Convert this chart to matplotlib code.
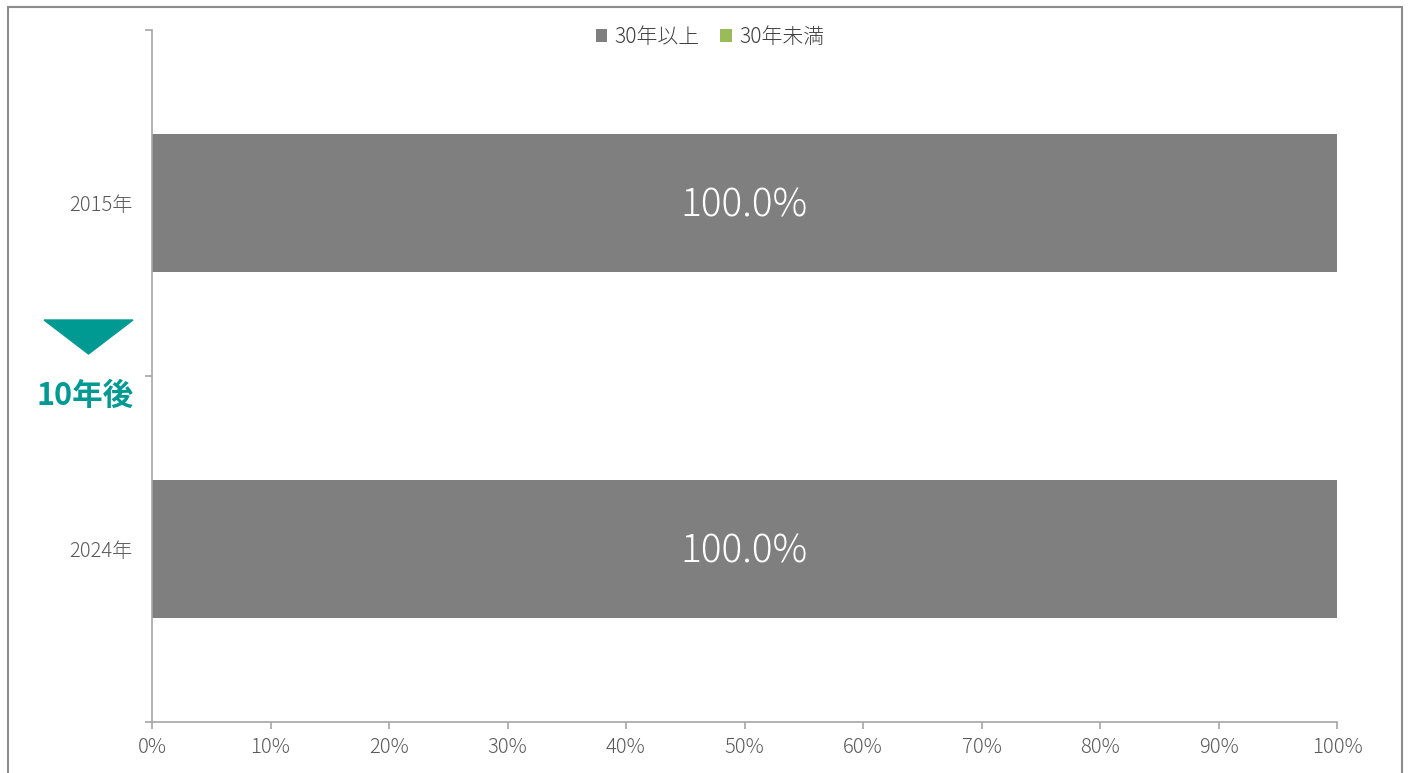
import matplotlib.pyplot as plt
import matplotlib.patches as patches
import numpy as np

plt.rcParams['font.family'] = ['Noto Sans CJK JP', 'DejaVu Sans']

YEARS = ["2015年", "2024年"]
SERIES_NAMES = ["30年以上", "30年未満"]
OVER_30 = [100.0, 100.0]
UNDER_30 = [0.0, 0.0]
X_TICKS = [0, 10, 20, 30, 40, 50, 60, 70, 80, 90, 100]

COLOR_OVER = '#7f7f7f'
COLOR_UNDER = '#9bbb59'
TEAL = '#009a93'
AXIS_GRAY = '#a6a6a6'
TEXT_GRAY = '#595959'

W, H = 1408, 773
fig = plt.figure(figsize=(W / 100, H / 100), dpi=100)
ax = fig.add_axes([152 / W, 1 - 722 / H, (1337 - 152) / W, (722 - 30) / H])

y = np.arange(len(YEARS))
ax.barh(y, OVER_30, height=0.4, color=COLOR_OVER, label=SERIES_NAMES[0])
ax.barh(y, UNDER_30, left=OVER_30, height=0.4, color=COLOR_UNDER, label=SERIES_NAMES[1])

for yi, v in zip(y, OVER_30):
    ax.annotate(f"{v:.1f}%", (v / 2, yi), xytext=(0, -2), textcoords='offset points',
                ha='center', va='center', color='white', fontsize=28, fontweight='light')

ax.set_xlim(0, 100)
ax.set_ylim(len(YEARS) - 0.5, -0.5)
ax.set_xticks(X_TICKS)
ax.set_xticklabels([f"{t}%" for t in X_TICKS], fontweight='light')
ax.set_yticks(np.arange(len(YEARS) + 1) - 0.5)
ax.set_yticklabels([])
ax.set_yticks(y, minor=True)
ax.set_yticklabels(YEARS, minor=True, fontweight='light')
ax.tick_params(axis='y', which='minor', length=0, pad=14, labelsize=14.5, labelcolor=TEXT_GRAY)
ax.tick_params(axis='y', which='major', length=5, color=AXIS_GRAY, width=1.2)
ax.tick_params(axis='x', length=5, color=AXIS_GRAY, width=1.2, labelsize=14.5, labelcolor=TEXT_GRAY, pad=6)

for side in ['top', 'right']:
    ax.spines[side].set_visible(False)
for side in ['left', 'bottom']:
    ax.spines[side].set_color(AXIS_GRAY)
    ax.spines[side].set_linewidth(1.2)

leg = fig.legend(loc='center', bbox_to_anchor=(710 / W, 1 - 37 / H), ncol=2, frameon=False,
                 fontsize=15, handlelength=0.55, handleheight=0.55, handletextpad=0.35,
                 columnspacing=1.0)
for t in leg.get_texts():
    t.set_color('#404040')
    t.set_fontweight('light')

# arrow and "10年後" annotation on the left
tri = patches.Polygon([[44 / W, 1 - 320 / H], [133 / W, 1 - 320 / H], [88.5 / W, 1 - 354 / H]],
                      closed=True, transform=fig.transFigure, color=TEAL)
fig.patches.append(tri)
fig.text(85 / W, 1 - 396 / H, "10年後", ha='center', va='center', color=TEAL,
         fontsize=22, fontweight='bold')

# outer frame
frame = patches.Rectangle((8 / W, -0.01), (1402 - 8) / W, 1 - 7 / H + 0.01,
                          transform=fig.transFigure, fill=False, edgecolor='#8c8c8c', linewidth=1.5)
fig.patches.append(frame)

fig.savefig("out.png", dpi=100)
